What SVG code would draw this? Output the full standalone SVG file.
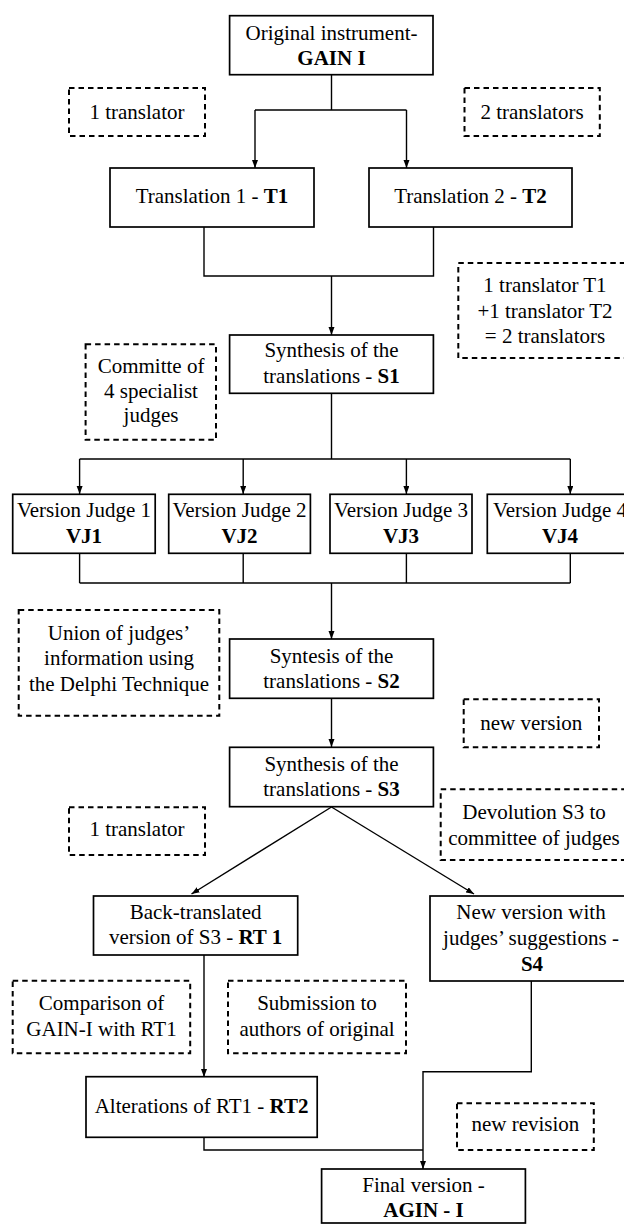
<svg xmlns="http://www.w3.org/2000/svg" width="624" height="1224" viewBox="0 0 624 1224">
<defs>
<style>
.box{fill:#fff;stroke:#000;stroke-width:1.7}
.note{fill:none;stroke:#000;stroke-width:2;stroke-dasharray:5.5 4}
text{font-family:"Liberation Serif","Times New Roman",serif;font-size:21px;fill:#000;text-anchor:middle}
.b{font-weight:bold}
.c{fill:none;stroke:#000;stroke-width:1.4}
</style>
<marker id="ah" markerUnits="userSpaceOnUse" markerWidth="9" markerHeight="7" refX="8" refY="3" orient="auto">
<path d="M0,0 L8,3 L0,6 z" fill="#000"/>
</marker>
</defs>
<rect width="624" height="1224" fill="#fff"/>

<g id="connectors">
<path class="c" d="M331.5,75 V110 M255,110 H406.5"/>
<path class="c" d="M255,110 V168" marker-end="url(#ah)"/>
<path class="c" d="M406.5,110 V168" marker-end="url(#ah)"/>
<path class="c" d="M204,227 V276 H433.5 V227"/>
<path class="c" d="M331.5,276 V335" marker-end="url(#ah)"/>
<path class="c" d="M331.5,393 V459 M79.6,459 H570.3"/>
<path class="c" d="M79.6,459 V494" marker-end="url(#ah)"/>
<path class="c" d="M243.2,459 V494" marker-end="url(#ah)"/>
<path class="c" d="M406.4,459 V494" marker-end="url(#ah)"/>
<path class="c" d="M570.3,459 V494" marker-end="url(#ah)"/>
<path class="c" d="M79.6,553 V583 M243.2,553 V583 M406.4,553 V583 M570.3,553 V583 M79.6,583 H570.3"/>
<path class="c" d="M331.5,583 V639" marker-end="url(#ah)"/>
<path class="c" d="M331.5,698 V747" marker-end="url(#ah)"/>
<path class="c" d="M331.5,807 L191.5,894" marker-end="url(#ah)"/>
<path class="c" d="M331.5,807 L474,894" marker-end="url(#ah)"/>
<path class="c" d="M204,955 V1077" marker-end="url(#ah)"/>
<path class="c" d="M531.3,981 V1071.7 H423 V1169" marker-end="url(#ah)"/>
<path class="c" d="M204,1137 V1150 H423"/>
</g>

<g id="n-original">
<rect class="box" x="229.6" y="15.7" width="203.4" height="59"/>
<text x="331.5" y="40">Original instrument-</text>
<text x="331.5" y="64.5" class="b">GAIN I</text>
</g>
<g id="note-1translator">
<rect class="note" x="69" y="88" width="136" height="48"/>
<text x="137" y="118.5">1 translator</text>
</g>
<g id="note-2translators">
<rect class="note" x="464.5" y="88" width="135.3" height="48"/>
<text x="532" y="118.5">2 translators</text>
</g>
<g id="n-t1">
<rect class="box" x="110" y="168" width="204" height="59"/>
<text x="212" y="203.3">Translation 1 - <tspan class="b">T1</tspan></text>
</g>
<g id="n-t2">
<rect class="box" x="369" y="168" width="203" height="59"/>
<text x="470.5" y="203.3">Translation 2 - <tspan class="b">T2</tspan></text>
</g>
<g id="note-t1t2">
<rect class="note" x="458.3" y="263" width="190" height="95"/>
<text x="545" y="291.5">1 translator T1</text>
<text x="545" y="317.5">+1 translator T2</text>
<text x="545" y="342.5">= 2 translators</text>
</g>
<g id="n-s1">
<rect class="box" x="229.6" y="335" width="203.8" height="58.3"/>
<text x="331.5" y="357.3">Synthesis of the</text>
<text x="331.5" y="383.3">translations - <tspan class="b">S1</tspan></text>
</g>
<g id="note-committe">
<rect class="note" x="85.6" y="344.3" width="130.4" height="95.4"/>
<text x="151" y="372.7">Committe of</text>
<text x="151" y="397.7">4 specialist</text>
<text x="151" y="421.7">judges</text>
</g>
<g id="n-vj1">
<rect class="box" x="12.7" y="494.3" width="142.5" height="59"/>
<text x="84" y="516.7">Version Judge 1</text>
<text x="84" y="542.7" class="b">VJ1</text>
</g>
<g id="n-vj2">
<rect class="box" x="168.7" y="494.3" width="141.7" height="59"/>
<text x="239.5" y="516.7">Version Judge 2</text>
<text x="239.5" y="542.7" class="b">VJ2</text>
</g>
<g id="n-vj3">
<rect class="box" x="330" y="494.3" width="142" height="59"/>
<text x="401" y="516.7">Version Judge 3</text>
<text x="401" y="542.7" class="b">VJ3</text>
</g>
<g id="n-vj4">
<rect class="box" x="487.3" y="494.3" width="142.5" height="59"/>
<text x="560" y="516.7">Version Judge 4</text>
<text x="560" y="542.7" class="b">VJ4</text>
</g>
<g id="note-union">
<rect class="note" x="18.7" y="610" width="200.6" height="105.7"/>
<text x="119" y="640">Union of judges’</text>
<text x="119" y="665">information using</text>
<text x="119" y="690.7">the Delphi Technique</text>
</g>
<g id="n-s2">
<rect class="box" x="229.6" y="639" width="203.8" height="59.3"/>
<text x="331.5" y="662.7">Syntesis of the</text>
<text x="331.5" y="688.3">translations - <tspan class="b">S2</tspan></text>
</g>
<g id="note-newversion">
<rect class="note" x="463.7" y="699.3" width="135.3" height="48"/>
<text x="531.3" y="729.5">new version</text>
</g>
<g id="n-s3">
<rect class="box" x="229.6" y="747.3" width="203.8" height="59.4"/>
<text x="331.5" y="770.7">Synthesis of the</text>
<text x="331.5" y="796">translations - <tspan class="b">S3</tspan></text>
</g>
<g id="note-1translator-b">
<rect class="note" x="69" y="807.3" width="136" height="47.7"/>
<text x="137" y="836">1 translator</text>
</g>
<g id="note-devolution">
<rect class="note" x="440.7" y="789.3" width="200" height="70.7"/>
<text x="534" y="819.3">Devolution S3 to</text>
<text x="534" y="845">committee of judges</text>
</g>
<g id="n-rt1">
<rect class="box" x="93.5" y="896" width="204.2" height="59"/>
<text x="195.6" y="919.3">Back-translated</text>
<text x="195.6" y="944.3">version of S3 - <tspan class="b">RT 1</tspan></text>
</g>
<g id="n-s4">
<rect class="box" x="430" y="896" width="210" height="85"/>
<text x="531" y="919.3">New version with</text>
<text x="531" y="945">judges’ suggestions -</text>
<text x="532" y="971" class="b">S4</text>
</g>
<g id="note-comparison">
<rect class="note" x="12.7" y="980.7" width="177.5" height="72.6"/>
<text x="101.5" y="1010">Comparison of</text>
<text x="101.5" y="1036">GAIN-I with RT1</text>
</g>
<g id="note-submission">
<rect class="note" x="228" y="980.7" width="178" height="72.6"/>
<text x="317" y="1010">Submission to</text>
<text x="317" y="1036">authors of original</text>
</g>
<g id="n-rt2">
<rect class="box" x="86" y="1076.7" width="231.2" height="60.6"/>
<text x="201.6" y="1113.3">Alterations of RT1 - <tspan class="b">RT2</tspan></text>
</g>
<g id="note-newrevision">
<rect class="note" x="457" y="1103.3" width="136.8" height="46.7"/>
<text x="525.4" y="1130.7">new revision</text>
</g>
<g id="n-final">
<rect class="box" x="321.6" y="1169" width="203.8" height="54"/>
<text x="423.5" y="1191.7">Final version -</text>
<text x="423.5" y="1217.3" class="b">AGIN - I</text>
</g>
</svg>
